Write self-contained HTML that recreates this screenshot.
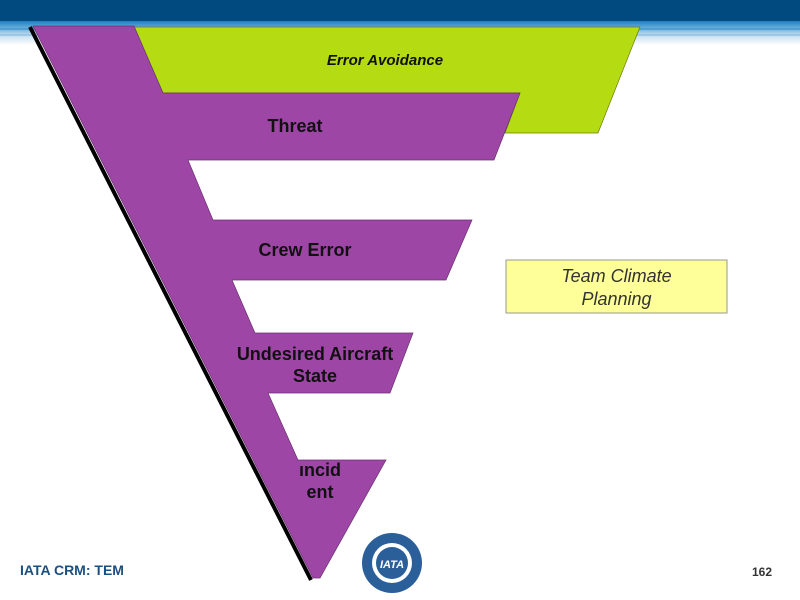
<!DOCTYPE html>
<html><head><style>
body{margin:0;width:800px;height:600px;overflow:hidden;background:#fff;font-family:"Liberation Sans",sans-serif;position:relative}
.t{position:absolute;font-weight:bold;color:#111;text-align:center}
</style></head><body>
<svg width="800" height="600" style="position:absolute;left:0;top:0">
<defs><linearGradient id="h" x1="0" y1="0" x2="0" y2="1">
<stop offset="0" stop-color="#1a7fc0"/><stop offset="0.3" stop-color="#6ab0dc"/><stop offset="0.6" stop-color="#c6def0"/><stop offset="1" stop-color="#fff"/></linearGradient></defs>
<rect x="0" y="0" width="800" height="21" fill="#004a80"/>
<rect x="0" y="21" width="800" height="24" fill="url(#h)"/>
<rect x="0" y="28" width="800" height="2" fill="#4f9fd3"/>
<rect x="0" y="34" width="800" height="2" fill="#9cc8e6"/>
<polygon points="134,27 640,27 598,133 505,133 520,93 163,93" fill="#b5dc12" stroke="#6a7a10" stroke-width="0.7"/>
<line x1="30" y1="27" x2="311" y2="580" stroke="#000" stroke-width="4"/>
<polygon points="33,26 134,26 163,93 520,93 494,160 188,160 213,220 472,220 446,280 232,280 255,333 413,333 390,393 268,393 298,460 386,460 320,578 313,578" fill="#9e46a6" stroke="#6a2f70" stroke-width="0.7"/>
<rect x="506" y="260" width="221" height="53" fill="#ffff99" stroke="#999" stroke-width="1"/>
<circle cx="392" cy="563" r="30" fill="#2a5f9a"/>
<circle cx="392" cy="563" r="20" fill="#fff"/>
<circle cx="392" cy="563" r="16" fill="#2a5f9a"/>
<text x="392" y="568" font-family="Liberation Sans" font-weight="bold" font-style="italic" font-size="11" fill="#fff" text-anchor="middle">IATA</text>
</svg>
<div class="t" style="left:290px;top:52px;width:190px;font-size:15px;font-style:italic">Error Avoidance</div>
<div class="t" style="left:220px;top:116px;width:150px;font-size:18px">Threat</div>
<div class="t" style="left:230px;top:240px;width:150px;font-size:18px">Crew Error</div>
<div class="t" style="left:215px;top:343px;width:200px;font-size:18px;line-height:22px">Undesired Aircraft<br>State</div>
<div class="t" style="left:280px;top:459px;width:80px;font-size:18px;line-height:22px">ıncid<br>ent</div>
<div style="position:absolute;left:506px;top:265px;width:221px;text-align:center;font-size:18px;font-style:italic;color:#333;line-height:23px">Team Climate<br>Planning</div>
<div style="position:absolute;left:20px;top:562px;font-size:14px;font-weight:bold;color:#1a4f80">IATA CRM: TEM</div>
<div style="position:absolute;left:752px;top:565px;font-size:12px;font-weight:bold;color:#333">162</div>
</body></html>
